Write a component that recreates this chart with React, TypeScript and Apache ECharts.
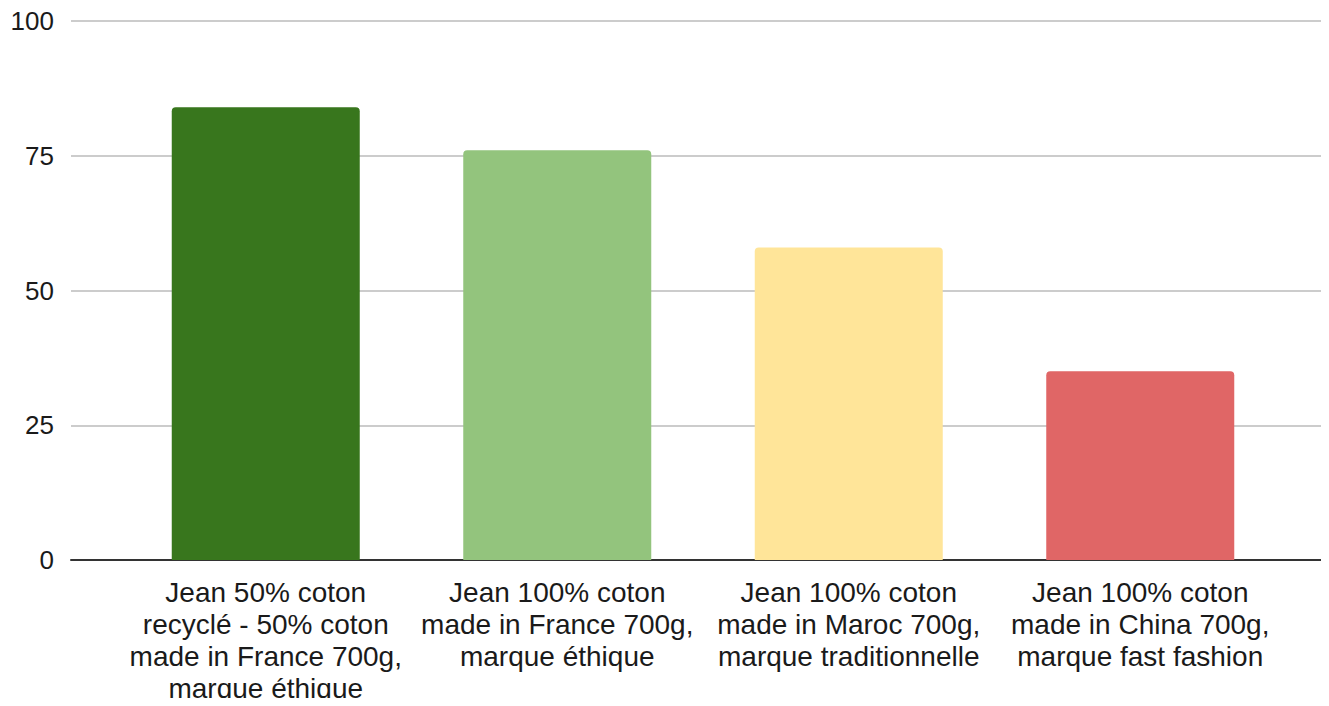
import React, { useEffect, useRef } from "react";
import * as echarts from "echarts";

const categories = [
  "Jean 50% coton\nrecyclé - 50% coton\nmade in France 700g,\nmarque éthique",
  "Jean 100% coton\nmade in France 700g,\nmarque éthique",
  "Jean 100% coton\nmade in Maroc 700g,\nmarque traditionnelle",
  "Jean 100% coton\nmade in China 700g,\nmarque fast fashion",
];
const values = [84, 76, 58, 35];
const barColors = ["#38761d", "#93c47d", "#ffe599", "#e06666"];
const yMin = 0;
const yMax = 100;
const yInterval = 25;

const FONT = "'Liberation Sans', Arial, sans-serif";

export default function App() {
  const ref = useRef<HTMLDivElement>(null);
  useEffect(() => {
    if (!ref.current) return;
    const chart = echarts.init(ref.current, null, { renderer: "svg" });
    chart.setOption({
      animation: false,
      backgroundColor: "#ffffff",
      grid: [
        { left: 71, right: 0, top: 21, bottom: 146 },
        { left: 120, right: 43, top: 21, bottom: 146 },
      ],
      xAxis: [
        {
          gridIndex: 0,
          type: "value",
          min: 0,
          max: 1,
          axisLabel: { show: false },
          axisTick: { show: false },
          splitLine: { show: false },
          axisLine: { show: true, lineStyle: { color: "#333333", width: 2 } },
        },
        {
          gridIndex: 1,
          type: "category",
          data: categories,
          axisLine: { show: false },
          axisTick: { show: false },
          axisLabel: {
            interval: 0,
            fontFamily: FONT,
            fontSize: 28,
            lineHeight: 32,
            color: "#1a1a1a",
            margin: 16,
            align: "center",
          },
        },
      ],
      yAxis: [
        {
          gridIndex: 0,
          type: "value",
          min: yMin,
          max: yMax,
          interval: yInterval,
          axisLine: { show: false },
          axisTick: { show: false },
          axisLabel: {
            fontFamily: FONT,
            fontSize: 26,
            color: "#1a1a1a",
            margin: 17,
          },
          splitLine: { show: true, lineStyle: { color: "#cccccc", width: 2 } },
        },
        {
          gridIndex: 1,
          type: "value",
          min: yMin,
          max: yMax,
          interval: yInterval,
          show: false,
          splitLine: { show: false },
        },
      ],
      series: [
        {
          type: "bar",
          xAxisIndex: 1,
          yAxisIndex: 1,
          barWidth: 188,
          data: values.map((v, i) => ({
            value: v,
            itemStyle: { color: barColors[i], borderRadius: [4, 4, 0, 0] },
          })),
        },
      ],
    });
    return () => chart.dispose();
  }, []);
  return <div ref={ref} style={{ width: 1329, height: 706, margin: -8 }} />;
}
